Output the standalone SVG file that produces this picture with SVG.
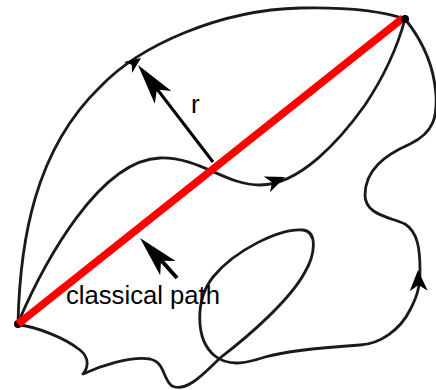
<svg xmlns="http://www.w3.org/2000/svg" width="436" height="390" viewBox="0 0 436 390">
<style>
.path{fill:none;stroke:#1a1a1a;stroke-width:2.8;stroke-linecap:round;stroke-linejoin:round}
.head{fill:#000}
.lbl{font-family:"Liberation Sans","Open Sans",sans-serif;font-size:26px;fill:#000}
</style>
<defs>
<path id="ah" d="M0,0 L-14,-6 L-10,0 L-14,6 Z"/>
<path id="big" d="M0,0 L-41,-10.5 L-31,0 L-41,10.5 Z"/>
</defs>
<rect width="436" height="390" fill="#fff"/>
<g id="connectors">
<path class="path" d="M18,323 C20,240 35,150 100,87 C140,45 220,10 300,8 C350,7 385,12 405,19"/>
<path class="path" d="M18,323 C45,260 100,160 160,158 C200,157 225,185 260,185 C300,185 340,140 365,105 C385,75 398,45 405,19"/>
<path class="path" d="M18,325 C35,326 65,338 80,350 C90,358 88,368 83,374 C100,366 130,356 150,359 C165,362 163,380 172,386 C185,392 200,378 220,358 C250,335 290,300 305,272 C315,255 318,232 303,230 C280,228 235,250 213,277 C195,300 195,340 215,356 C230,368 250,362 265,357 C290,350 330,347 360,345 C380,344 400,330 410,310 C418,295 420,285 420,270 C420,250 418,232 405,224 C390,217 365,215 365,195 C365,170 385,155 410,144 C435,132 437,115 436,95 C434,65 422,40 405,19"/>
<use href="#ah" class="head" transform="translate(141,58) rotate(-36) scale(1.15)"/>
<use href="#ah" class="head" transform="translate(285,177) rotate(-22) scale(1.4)"/>
<use href="#ah" class="head" transform="translate(418,270) rotate(-92) scale(1.5)"/>
</g>
<g id="classical-path">
<line x1="18" y1="324" x2="403" y2="18" stroke="#ff0000" stroke-width="7.5"/>
</g>
<g id="endpoint-a"><circle cx="18" cy="324" r="4" fill="#000"/><line x1="18" y1="324" x2="24" y2="319" stroke="#ff0000" stroke-width="7.5"/></g>
<g id="endpoint-b"><circle cx="405" cy="19" r="4" fill="#000"/></g>
<g id="r-arrow">
<line x1="213" y1="162" x2="157" y2="89" stroke="#000" stroke-width="3"/>
<use href="#big" class="head" transform="translate(138,65) rotate(-127.7)"/>
<text class="lbl" x="191" y="113">r</text>
</g>
<g id="classical-label">
<line x1="177" y1="278" x2="160" y2="259" stroke="#000" stroke-width="4"/>
<use href="#big" class="head" transform="translate(140,238) rotate(-132.8)"/>
<text class="lbl" x="66" y="304" textLength="154" lengthAdjust="spacingAndGlyphs">classical path</text>
</g>
</svg>
